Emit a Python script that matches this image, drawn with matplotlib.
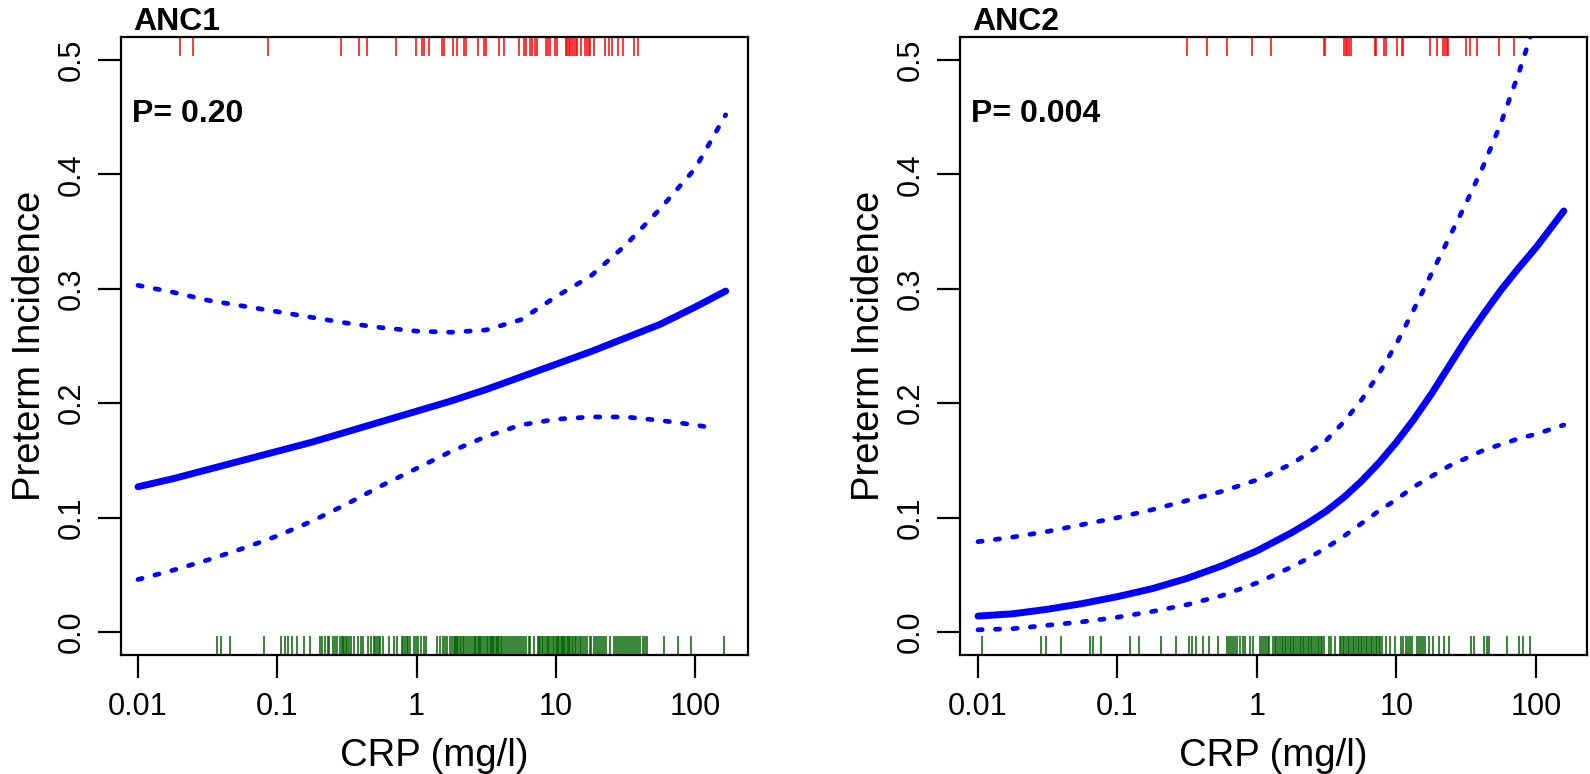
import numpy as np
import matplotlib
matplotlib.use('Agg')
import matplotlib.pyplot as plt

plt.rcParams['font.family'] = ['Liberation Sans', 'DejaVu Sans']

# curve grid in log10(CRP)
grid_anc1 = [-2, -1.75, -1.5, -1.25, -1, -0.75, -0.5, -0.25, 0, 0.25, 0.5, 0.75, 1, 1.25, 1.5, 1.75, 2, 2.22]
fit_anc1 = [0.127, 0.134, 0.142, 0.150, 0.158, 0.166, 0.175, 0.184, 0.193, 0.202, 0.212, 0.223,
            0.234, 0.245, 0.257, 0.269, 0.284, 0.298]
upper_anc1 = [0.303, 0.297, 0.290, 0.285, 0.280, 0.275, 0.270, 0.266, 0.263, 0.262, 0.264, 0.273,
              0.293, 0.311, 0.338, 0.370, 0.405, 0.452]
grid_anc1_low = [-2, -1.75, -1.5, -1.25, -1, -0.75, -0.5, -0.25, 0, 0.25, 0.5, 0.75, 1, 1.25, 1.5, 1.75, 2, 2.15]
lower_anc1 = [0.046, 0.054, 0.063, 0.073, 0.084, 0.097, 0.112, 0.128, 0.143, 0.158, 0.171, 0.181,
              0.186, 0.188, 0.188, 0.185, 0.181, 0.178]

grid_anc2 = [-2, -1.75, -1.5, -1.25, -1, -0.75, -0.5, -0.25, 0, 0.125, 0.25, 0.375, 0.5, 0.625, 0.75,
             0.875, 1, 1.125, 1.25, 1.375, 1.5, 1.625, 1.75, 1.875, 2, 2.1, 2.2]
fit_anc2 = [0.014, 0.016, 0.020, 0.025, 0.031, 0.038, 0.047, 0.058, 0.071, 0.079, 0.087, 0.096, 0.106,
            0.118, 0.132, 0.148, 0.166, 0.186, 0.208, 0.232, 0.256, 0.278, 0.299, 0.318, 0.336, 0.352, 0.368]
upper_anc2 = [0.079, 0.083, 0.088, 0.094, 0.100, 0.107, 0.115, 0.123, 0.133, 0.140, 0.147, 0.157, 0.168,
              0.184, 0.203, 0.226, 0.252, 0.282, 0.313, 0.344, 0.375, 0.408, 0.445, 0.488, 0.535, 0.567, 0.600]
lower_anc2 = [0.002, 0.003, 0.006, 0.009, 0.013, 0.018, 0.024, 0.032, 0.043, 0.050, 0.057, 0.065, 0.074,
              0.084, 0.095, 0.106, 0.116, 0.127, 0.136, 0.145, 0.152, 0.159, 0.164, 0.169, 0.173, 0.177, 0.181]

# rug positions, log10(CRP): cases (top, red) and non-cases (bottom, green)
cases_anc1 = [-1.697, -1.603, -1.067, -0.543, -0.416, -0.358, -0.150, -0.006, 0.041, 0.055, 0.088,
              0.182, 0.196, 0.261, 0.293, 0.343, 0.357, 0.439, 0.486, 0.498, 0.595, 0.627, 0.735,
              0.770, 0.785, 0.817, 0.832, 0.849, 0.864, 0.929, 0.943, 0.958, 0.994, 1.008, 1.070,
              1.081, 1.093, 1.105, 1.119, 1.131, 1.143, 1.154, 1.178, 1.213, 1.225, 1.236, 1.248,
              1.274, 1.353, 1.385, 1.401, 1.447, 1.480, 1.559, 1.591]
controls_anc1 = [-1.430, -1.401, -1.337, -1.096, -0.976, -0.947, -0.921, -0.894, -0.856, -0.806, -0.765,
                 -0.692, -0.677, -0.660, -0.639, -0.625, -0.601, -0.584, -0.569, -0.551, -0.537, -0.528,
                 -0.519, -0.510, -0.502, -0.487, -0.472, -0.449, -0.420, -0.402, -0.385, -0.349, -0.326,
                 -0.308, -0.297, -0.285, -0.273, -0.261, -0.244, -0.197, -0.159, -0.141, -0.106, -0.094,
                 -0.086, -0.071, -0.059, -0.047, -0.015, -0.003, 0.011, 0.032, 0.055, 0.070, 0.149,
                 0.169, 0.190, 0.202, 0.219, 0.237, 0.254, 0.266, 0.275, 0.284, 0.292, 0.301, 0.310,
                 0.319, 0.331, 0.342, 0.354, 0.369, 0.386, 0.398, 0.410, 0.421, 0.430, 0.439, 0.448,
                 0.457, 0.465, 0.477, 0.489, 0.506, 0.515, 0.524, 0.533, 0.541, 0.550, 0.559, 0.568,
                 0.577, 0.585, 0.594, 0.603, 0.612, 0.626, 0.641, 0.656, 0.670, 0.685, 0.700, 0.717,
                 0.729, 0.744, 0.758, 0.773, 0.788, 0.805, 0.817, 0.840, 0.870, 0.881, 0.890, 0.899,
                 0.911, 0.922, 0.934, 0.943, 0.952, 0.963, 0.978, 0.990, 0.999, 1.007, 1.016, 1.025,
                 1.034, 1.043, 1.051, 1.060, 1.069, 1.078, 1.086, 1.095, 1.104, 1.113, 1.125, 1.136,
                 1.148, 1.160, 1.171, 1.183, 1.198, 1.212, 1.227, 1.242, 1.256, 1.271, 1.286, 1.300,
                 1.315, 1.330, 1.344, 1.359, 1.388, 1.418, 1.432, 1.447, 1.462, 1.476, 1.491, 1.505,
                 1.520, 1.535, 1.549, 1.564, 1.579, 1.593, 1.608, 1.623, 1.637, 1.655, 1.778, 1.875,
                 1.968, 2.209]
cases_anc2 = [-0.501, -0.355, -0.214, -0.038, 0.102, 0.478, 0.489, 0.624, 0.636, 0.648, 0.659, 0.671,
              0.844, 0.856, 0.908, 0.923, 1.002, 1.037, 1.049, 1.240, 1.289, 1.336, 1.348, 1.360,
              1.371, 1.495, 1.530, 1.577, 1.732, 1.841]
controls_anc2 = [-1.973, -1.545, -1.513, -1.407, -1.196, -1.178, -1.120, -0.909, -0.847, -0.689, -0.581,
                 -0.487, -0.469, -0.434, -0.390, -0.346, -0.276, -0.214, -0.200, -0.185, -0.170, -0.156,
                 -0.141, -0.123, -0.103, -0.088, -0.050, -0.027, 0.020, 0.035, 0.050, 0.064, 0.079,
                 0.088, 0.117, 0.129, 0.140, 0.152, 0.164, 0.176, 0.187, 0.199, 0.211, 0.223, 0.234,
                 0.246, 0.258, 0.269, 0.281, 0.293, 0.305, 0.316, 0.328, 0.340, 0.352, 0.363, 0.375,
                 0.387, 0.398, 0.410, 0.422, 0.434, 0.445, 0.457, 0.469, 0.483, 0.513, 0.533, 0.557,
                 0.592, 0.604, 0.615, 0.627, 0.639, 0.651, 0.662, 0.674, 0.686, 0.697, 0.709, 0.721,
                 0.733, 0.744, 0.756, 0.768, 0.779, 0.791, 0.803, 0.815, 0.826, 0.838, 0.850, 0.862,
                 0.873, 0.885, 0.894, 0.923, 0.952, 0.991, 1.032, 1.049, 1.067, 1.084, 1.099, 1.114,
                 1.149, 1.163, 1.178, 1.193, 1.207, 1.231, 1.260, 1.304, 1.342, 1.377, 1.533, 1.553,
                 1.626, 1.647, 1.665, 1.796, 1.876, 1.905, 1.958]

panels = [
    dict(title='ANC1', p='P= 0.20', grid=grid_anc1, fit=fit_anc1, upper=upper_anc1,
         lgrid=grid_anc1_low, lower=lower_anc1, cases=cases_anc1, controls=controls_anc1,
         left=121, xlim=(-2.122, 2.38)),
    dict(title='ANC2', p='P= 0.004', grid=grid_anc2, fit=fit_anc2, upper=upper_anc2,
         lgrid=grid_anc2, lower=lower_anc2, cases=cases_anc2, controls=controls_anc2,
         left=960, xlim=(-2.129, 2.366)),
]

W, H = 1590, 774
fig = plt.figure(figsize=(W / 100, H / 100), dpi=100)

xticks = [0.01, 0.1, 1, 10, 100]
xticklabels = ['0.01', '0.1', '1', '10', '100']
yticks = [0.0, 0.1, 0.2, 0.3, 0.4, 0.5]

box_top, box_bot, box_w = 37, 655, 627
for pn in panels:
    ax = fig.add_axes([pn['left'] / W, (H - box_bot) / H, box_w / W, (box_bot - box_top) / H])
    ax.set_xscale('log')
    ax.set_xlim(10 ** pn['xlim'][0], 10 ** pn['xlim'][1])
    ax.set_ylim(-0.02, 0.52)

    ax.plot(10 ** np.array(pn['grid']), pn['fit'], color='#0000ff', lw=5, solid_capstyle='round',
            solid_joinstyle='round')
    for g, v in [(pn['grid'], pn['upper']), (pn['lgrid'], pn['lower'])]:
        ax.plot(10 ** np.array(g), v, color='#0000ff', lw=3.4, linestyle=(0, (0.9, 2.8)),
                dash_capstyle='round')

    tr = ax.get_xaxis_transform()
    ax.vlines(10 ** np.array(pn['cases']), 0.97, 1.0, transform=tr, color='red', lw=1.1)
    ax.vlines(10 ** np.array(pn['controls']), 0.0, 0.03, transform=tr, color='#006400', lw=1.1)

    ax.set_xticks(xticks)
    ax.set_xticklabels(xticklabels)
    ax.xaxis.set_minor_locator(matplotlib.ticker.NullLocator())
    ax.set_yticks(yticks)
    ax.set_yticklabels(['0.0', '0.1', '0.2', '0.3', '0.4', '0.5'], rotation=90, va='center')
    ax.tick_params(axis='both', direction='out', length=16.5, width=1.6, labelsize=22, color='black')
    ax.tick_params(axis='y', pad=8)
    ax.tick_params(axis='x', pad=10)
    for s in ax.spines.values():
        s.set_linewidth(1.6)

    ax.text(0.018, 0.862, pn['p'], transform=ax.transAxes, fontsize=23, fontweight='bold',
            ha='left', va='baseline')
    fig.text((pn['left'] + 12) / W, 1 - 30 / H, pn['title'], fontsize=23, fontweight='bold',
             ha='left', va='baseline')
    fig.text((pn['left'] + box_w / 2) / W, 1 - 756 / H, 'CRP (mg/l)', fontsize=27.5,
             ha='center', va='center')
    fig.text((pn['left'] - 91) / W, 1 - 346 / H, 'Preterm Incidence', fontsize=27.5,
             rotation=90, ha='center', va='center')

fig.savefig('out.png', dpi=100)
